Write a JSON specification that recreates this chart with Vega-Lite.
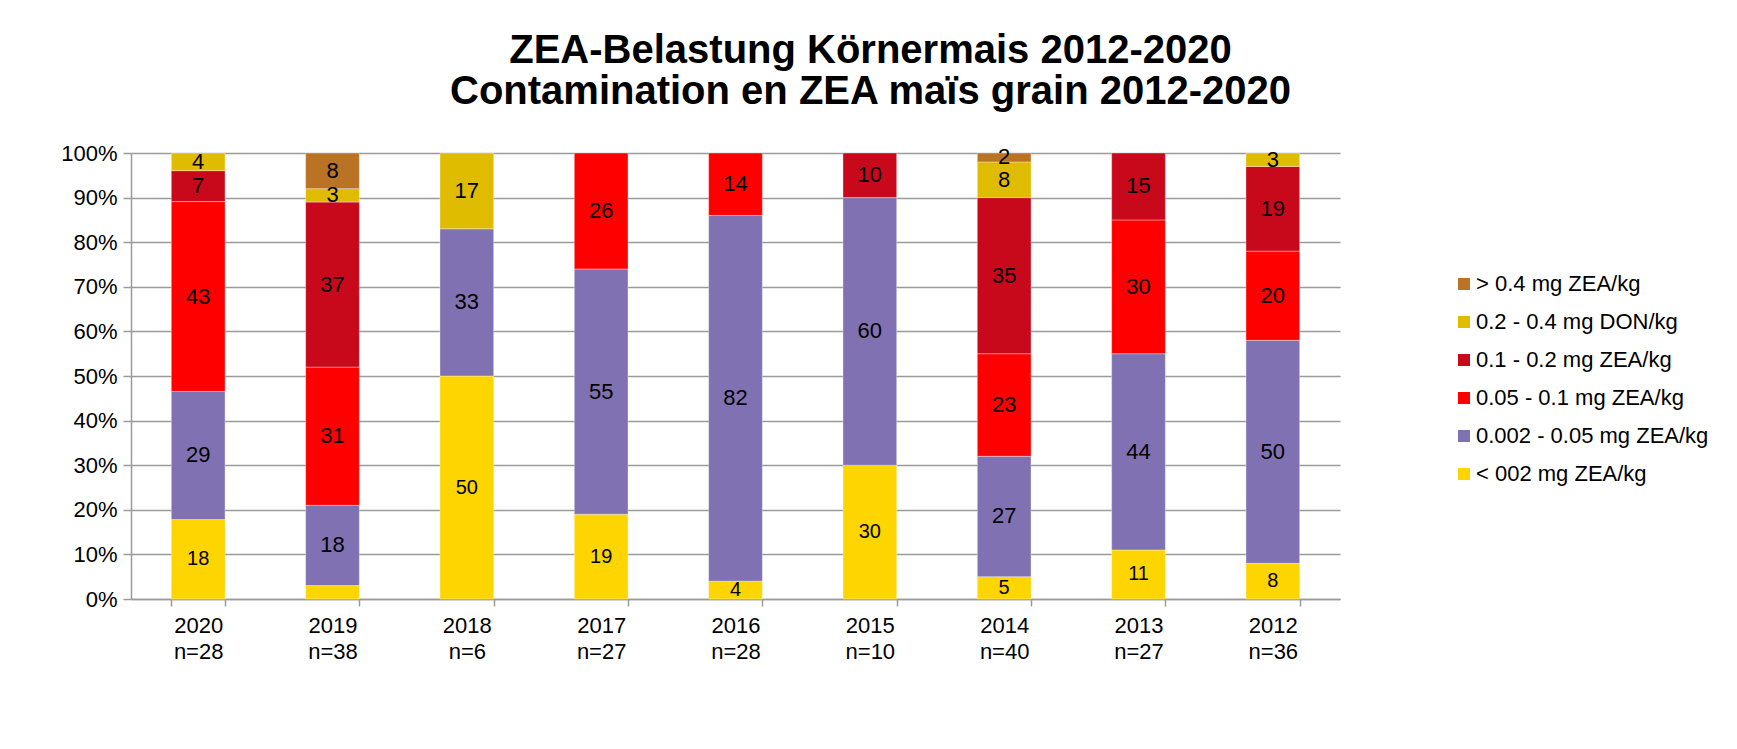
{
  "$schema": "https://vega.github.io/schema/vega-lite/v6.json",
  "autosize": {"type": "none"},
  "width": 1209,
  "height": 446,
  "padding": {"left": 131, "top": 153, "right": 397, "bottom": 150},
  "background": "white",
  "config": {
    "font": "Liberation Sans",
    "view": {"stroke": null},
    "axis": {"labelFont": "Liberation Sans", "labelColor": "#000000"}
  },
  "title": {
    "text": ["ZEA-Belastung Körnermais 2012-2020", "Contamination en ZEA maïs grain 2012-2020"],
    "font": "Liberation Sans",
    "fontSize": 40,
    "fontWeight": "bold",
    "color": "#000000",
    "anchor": "middle",
    "frame": "group",
    "dx": 135,
    "lineHeight": 41,
    "offset": 30
  },
  "data": {
    "values": [
      {"year": "2020 n=28", "cat": "< 002 mg ZEA/kg", "order": 1, "value": 18, "label": 18},
      {"year": "2020 n=28", "cat": "0.002 - 0.05 mg ZEA/kg", "order": 2, "value": 29, "label": 29},
      {"year": "2020 n=28", "cat": "0.05 - 0.1 mg ZEA/kg", "order": 3, "value": 43, "label": 43},
      {"year": "2020 n=28", "cat": "0.1 -  0.2 mg ZEA/kg", "order": 4, "value": 7, "label": 7},
      {"year": "2020 n=28", "cat": "0.2 - 0.4 mg DON/kg", "order": 5, "value": 4, "label": 4},
      {"year": "2019 n=38", "cat": "< 002 mg ZEA/kg", "order": 1, "value": 3, "label": null},
      {"year": "2019 n=38", "cat": "0.002 - 0.05 mg ZEA/kg", "order": 2, "value": 18, "label": 18},
      {"year": "2019 n=38", "cat": "0.05 - 0.1 mg ZEA/kg", "order": 3, "value": 31, "label": 31},
      {"year": "2019 n=38", "cat": "0.1 -  0.2 mg ZEA/kg", "order": 4, "value": 37, "label": 37},
      {"year": "2019 n=38", "cat": "0.2 - 0.4 mg DON/kg", "order": 5, "value": 3, "label": 3},
      {"year": "2019 n=38", "cat": "> 0.4 mg ZEA/kg", "order": 6, "value": 8, "label": 8},
      {"year": "2018 n=6", "cat": "< 002 mg ZEA/kg", "order": 1, "value": 50, "label": 50},
      {"year": "2018 n=6", "cat": "0.002 - 0.05 mg ZEA/kg", "order": 2, "value": 33, "label": 33},
      {"year": "2018 n=6", "cat": "0.2 - 0.4 mg DON/kg", "order": 5, "value": 17, "label": 17},
      {"year": "2017 n=27", "cat": "< 002 mg ZEA/kg", "order": 1, "value": 19, "label": 19},
      {"year": "2017 n=27", "cat": "0.002 - 0.05 mg ZEA/kg", "order": 2, "value": 55, "label": 55},
      {"year": "2017 n=27", "cat": "0.05 - 0.1 mg ZEA/kg", "order": 3, "value": 26, "label": 26},
      {"year": "2016 n=28", "cat": "< 002 mg ZEA/kg", "order": 1, "value": 4, "label": 4},
      {"year": "2016 n=28", "cat": "0.002 - 0.05 mg ZEA/kg", "order": 2, "value": 82, "label": 82},
      {"year": "2016 n=28", "cat": "0.05 - 0.1 mg ZEA/kg", "order": 3, "value": 14, "label": 14},
      {"year": "2015 n=10", "cat": "< 002 mg ZEA/kg", "order": 1, "value": 30, "label": 30},
      {"year": "2015 n=10", "cat": "0.002 - 0.05 mg ZEA/kg", "order": 2, "value": 60, "label": 60},
      {"year": "2015 n=10", "cat": "0.1 -  0.2 mg ZEA/kg", "order": 4, "value": 10, "label": 10},
      {"year": "2014 n=40", "cat": "< 002 mg ZEA/kg", "order": 1, "value": 5, "label": 5},
      {"year": "2014 n=40", "cat": "0.002 - 0.05 mg ZEA/kg", "order": 2, "value": 27, "label": 27},
      {"year": "2014 n=40", "cat": "0.05 - 0.1 mg ZEA/kg", "order": 3, "value": 23, "label": 23},
      {"year": "2014 n=40", "cat": "0.1 -  0.2 mg ZEA/kg", "order": 4, "value": 35, "label": 35},
      {"year": "2014 n=40", "cat": "0.2 - 0.4 mg DON/kg", "order": 5, "value": 8, "label": 8},
      {"year": "2014 n=40", "cat": "> 0.4 mg ZEA/kg", "order": 6, "value": 2, "label": 2},
      {"year": "2013 n=27", "cat": "< 002 mg ZEA/kg", "order": 1, "value": 11, "label": 11},
      {"year": "2013 n=27", "cat": "0.002 - 0.05 mg ZEA/kg", "order": 2, "value": 44, "label": 44},
      {"year": "2013 n=27", "cat": "0.05 - 0.1 mg ZEA/kg", "order": 3, "value": 30, "label": 30},
      {"year": "2013 n=27", "cat": "0.1 -  0.2 mg ZEA/kg", "order": 4, "value": 15, "label": 15},
      {"year": "2012 n=36", "cat": "< 002 mg ZEA/kg", "order": 1, "value": 8, "label": 8},
      {"year": "2012 n=36", "cat": "0.002 - 0.05 mg ZEA/kg", "order": 2, "value": 50, "label": 50},
      {"year": "2012 n=36", "cat": "0.05 - 0.1 mg ZEA/kg", "order": 3, "value": 20, "label": 20},
      {"year": "2012 n=36", "cat": "0.1 -  0.2 mg ZEA/kg", "order": 4, "value": 19, "label": 19},
      {"year": "2012 n=36", "cat": "0.2 - 0.4 mg DON/kg", "order": 5, "value": 3, "label": 3}
    ]
  },
  "transform": [
    {"stack": "value", "groupby": ["year"], "sort": [{"field": "order", "order": "ascending"}], "as": ["y0", "y1"], "offset": "normalize"}
  ],
  "layer": [
    {
      "mark": {"type": "bar", "stroke": "#ffffff", "strokeOpacity": 0.35, "strokeWidth": 1},
      "encoding": {
        "x": {
          "field": "year", "type": "nominal", "sort": null,
          "scale": {"paddingInner": 0.6, "paddingOuter": 0.3},
          "axis": {
            "title": null,
            "labelAngle": 0,
            "labelExpr": "split(datum.label, ' ')",
            "labelFontSize": 22,
            "labelLineHeight": 26,
            "labelPadding": 9,
            "tickBand": "extent",
            "tickSize": 7,
            "tickColor": "#9a9a9a",
            "tickWidth": 1.5,
            "domainColor": "#9a9a9a",
            "domainWidth": 1.5,
            "grid": false
          }
        },
        "y": {
          "field": "y0", "type": "quantitative",
          "scale": {"domain": [0, 1], "nice": false},
          "axis": {
            "title": null,
            "values": [0, 0.1, 0.2, 0.3, 0.4, 0.5, 0.6, 0.7, 0.8, 0.9, 1],
            "format": ".0%",
            "labelFontSize": 22,
            "labelPadding": 6,
            "tickSize": 8,
            "tickColor": "#9a9a9a",
            "tickWidth": 1.5,
            "domainColor": "#9a9a9a",
            "domainWidth": 1.5,
            "grid": true,
            "gridColor": "#9a9a9a",
            "gridWidth": 1.5
          }
        },
        "y2": {"field": "y1"},
        "color": {
          "field": "cat", "type": "nominal",
          "scale": {
            "domain": ["> 0.4 mg ZEA/kg", "0.2 - 0.4 mg DON/kg", "0.1 -  0.2 mg ZEA/kg", "0.05 - 0.1 mg ZEA/kg", "0.002 - 0.05 mg ZEA/kg", "< 002 mg ZEA/kg"],
            "range": ["#BA7224", "#E0BC00", "#C8091C", "#FF0000", "#8072B2", "#FFD500"]
          },
          "legend": {
            "title": null,
            "orient": "none",
            "legendX": 1322,
            "legendY": 120,
            "padding": 0,
            "symbolType": "square",
            "symbolSize": 144,
            "symbolStrokeWidth": 0,
            "labelFontSize": 22,
            "labelFont": "Liberation Sans",
            "labelColor": "#000000",
            "labelOffset": 1,
            "rowPadding": 16,
            "labelLimit": 400
          }
        }
      }
    },
    {
      "transform": [
        {"filter": {"field": "label", "valid": true}},
        {"fold": ["y0", "y1"], "as": ["edge", "pos"]},
        {"aggregate": [{"op": "mean", "field": "pos", "as": "mid"}], "groupby": ["year", "order", "label"]}
      ],
      "mark": {"type": "text", "font": "Liberation Sans", "color": "#000000", "baseline": "middle", "align": "center"},
      "encoding": {
        "x": {"field": "year", "type": "nominal", "sort": null},
        "y": {"field": "mid", "type": "quantitative"},
        "text": {"field": "label", "type": "nominal"},
        "size": {
          "field": "order", "type": "nominal",
          "scale": {"type": "ordinal", "domain": [1, 2, 3, 4, 5, 6], "range": [20, 22, 22, 22, 22, 22]},
          "legend": null
        }
      }
    }
  ]
}
